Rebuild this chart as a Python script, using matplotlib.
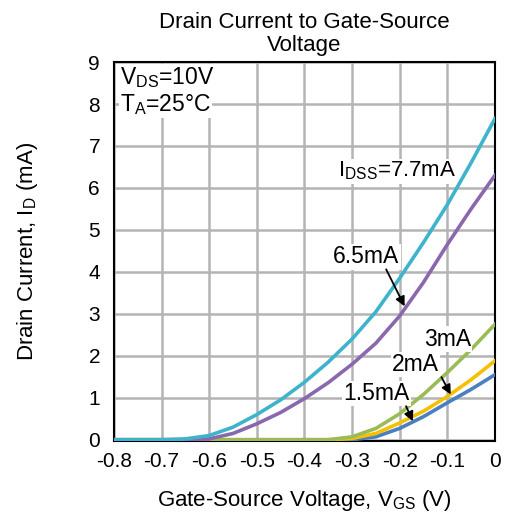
import matplotlib
matplotlib.use('Agg')
from matplotlib import pyplot as plt

plt.rcParams['font.family'] = ['Liberation Sans', 'DejaVu Sans']
plt.rcParams['mathtext.fontset'] = 'custom'
plt.rcParams['mathtext.rm'] = 'Liberation Sans'
plt.rcParams['mathtext.it'] = 'Liberation Sans'

vgs = [-0.8, -0.7, -0.65, -0.6, -0.55, -0.5, -0.45, -0.4, -0.35, -0.3,
       -0.25, -0.2, -0.15, -0.1, -0.05, 0.0]
id_77 = [0, 0, 0.02, 0.1, 0.3, 0.6, 0.95, 1.37, 1.85, 2.4,
         3.05, 3.85, 4.7, 5.6, 6.6, 7.65]
id_65 = [0, 0, 0, 0.02, 0.15, 0.38, 0.65, 0.98, 1.36, 1.8,
         2.3, 2.95, 3.75, 4.65, 5.5, 6.3]
id_3 = [0, 0, 0, 0, 0, 0, 0, 0, 0, 0.07,
        0.27, 0.62, 1.08, 1.6, 2.15, 2.75]
id_2 = [0, 0, 0, 0, 0, 0, 0, 0, 0, 0.03,
        0.15, 0.4, 0.68, 1.03, 1.43, 1.88]
id_15 = [0, 0, 0, 0, 0, 0, 0, 0, 0, 0.0,
         0.07, 0.27, 0.55, 0.88, 1.2, 1.55]

xticks = [-0.8, -0.7, -0.6, -0.5, -0.4, -0.3, -0.2, -0.1, 0]
xticklabels = ['-0.8', '-0.7', '-0.6', '-0.5', '-0.4', '-0.3', '-0.2', '-0.1', '0']
yticks = list(range(10))

fig = plt.figure(figsize=(5.05, 5.17), dpi=100)
ax = fig.add_axes([0.2257, 0.147, 0.7543, 0.733])

# curves (drawn from lowest to highest)
ax.plot(vgs, id_15, color='#4a7fc0', lw=2.6, zorder=3)
ax.plot(vgs, id_2, color='#f5c000', lw=2.6, zorder=3)
ax.plot(vgs, id_3, color='#9bbb59', lw=2.6, zorder=3)
ax.plot(vgs, id_65, color='#8a68ae', lw=2.6, zorder=3)
ax.plot(vgs, id_77, color='#3eb4cc', lw=2.6, zorder=3)

ax.set_xlim(-0.8, 0)
ax.set_ylim(-0.03, 9)
ax.set_xticks(xticks)
ax.set_xticklabels(xticklabels)
ax.set_yticks(yticks)
ax.tick_params(length=0, labelsize=15)
ax.tick_params(axis='x', pad=8)
ax.tick_params(axis='y', pad=10)
ax.grid(True, color='#b4b4b4', lw=1.8)
ax.set_axisbelow(True)
for sp in ax.spines.values():
    sp.set_linewidth(1.5)

ax.set_title('Drain Current to Gate-Source\nVoltage', fontsize=16, pad=8,
             linespacing=1.15)
ax.set_xlabel(r'Gate-Source Voltage, V$_{\rm GS}$ (V)', fontsize=16, labelpad=12)
ax.set_ylabel(r'Drain Current, I$_{\rm D}$ (mA)', fontsize=16, labelpad=35)

box = dict(facecolor='white', edgecolor='none', pad=1)
ax.text(0.016, 0.958, r'V$_{\rm DS}$=10V', transform=ax.transAxes, fontsize=16.5,
        va='center', bbox=box)
ax.text(0.016, 0.889, r'T$_{\rm A}$=25°C', transform=ax.transAxes, fontsize=16.5,
        va='center', bbox=box)

ax.text(-0.33, 6.4, r'I$_{\rm DSS}$=7.7mA', fontsize=16, va='center', bbox=box, zorder=4)
ax.text(-0.34, 4.36, '6.5mA', fontsize=16.5, va='center', bbox=box, zorder=4)
ax.text(-0.149, 2.4, '3mA', fontsize=16.5, va='center', bbox=box, zorder=4)
ax.text(-0.216, 1.79, '2mA', fontsize=16.5, va='center', bbox=box, zorder=4)
ax.text(-0.319, 1.1, '1.5mA', fontsize=16.5, va='center', bbox=box, zorder=4)

arrow = dict(arrowstyle='-|>', color='black', lw=1.3, mutation_scale=14)
ax.annotate('', xy=(-0.187, 3.12), xytext=(-0.231, 4.12), arrowprops=arrow, zorder=5)
ax.annotate('', xy=(-0.09, 1.02), xytext=(-0.115, 1.55), arrowprops=arrow, zorder=5)
ax.annotate('', xy=(-0.17, 0.38), xytext=(-0.189, 0.86), arrowprops=arrow, zorder=5)

fig.savefig('out.png', dpi=100)
